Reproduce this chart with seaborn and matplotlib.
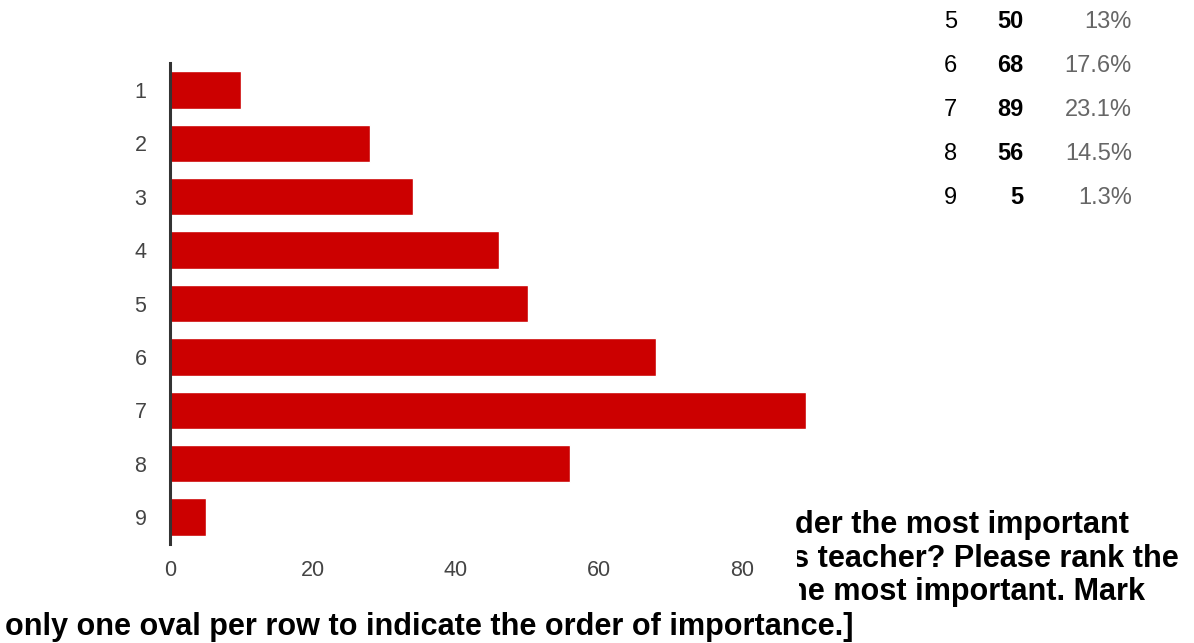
import matplotlib
matplotlib.use("Agg")
import matplotlib.pyplot as plt
import seaborn as sns
import pandas as pd
from matplotlib.transforms import Bbox, TransformedBbox

# Responses per rank
ranks = ["1", "2", "3", "4", "5", "6", "7", "8", "9"]
counts = [10, 28, 34, 46, 50, 68, 89, 56, 5]
x_ticks = [0, 20, 40, 60, 80]

# Summary rows listed beside the chart
table_ranks = ["5", "6", "7", "8", "9"]

question_lines = [
    "der the most important",
    "s teacher? Please rank the",
    "he most important. Mark",
    "only one oval per row to indicate the order of importance.]",
]

W, H = 1194, 643
sns.set_theme(style="white")
plt.rcParams["font.family"] = ["Liberation Sans", "DejaVu Sans"]

fig = plt.figure(figsize=(W / 100, H / 100), dpi=100)
fig.patch.set_facecolor("white")


def fx(px):
    return px / W


def fy(py):
    return 1 - py / H


ax = fig.add_axes([fx(170), fy(543.7), fx(885) - fx(170), fy(63.3) - fy(543.7)])
ax.set_facecolor("none")

df = pd.DataFrame({"rank": ranks, "count": counts})
sns.barplot(data=df, x="count", y="rank", orient="h", color="#cc0000",
            saturation=1, width=0.7, ax=ax)

ax.set_xlim(0, 100)
ax.set_xticks(x_ticks)
ax.set_xlabel("")
ax.set_ylabel("")
for s in ["top", "right", "bottom"]:
    ax.spines[s].set_visible(False)
ax.spines["left"].set_color("#333333")
ax.spines["left"].set_linewidth(2.2)
ax.tick_params(axis="y", length=0, pad=17, labelsize=15.5, labelcolor="#444444")
ax.tick_params(axis="x", length=0, pad=12, labelsize=15.5, labelcolor="#444444")

# Summary table: rank, count, share
total = sum(counts)
row_base = 28
row_step = 44
for i, r in enumerate(table_ranks):
    c = counts[ranks.index(r)]
    pct = f"{round(c / total * 100, 1):g}%"
    y = fy(row_base + i * row_step)
    fig.text(fx(957), y, r, ha="right", va="baseline", fontsize=17, color="black")
    fig.text(fx(1023), y, str(c), ha="right", va="baseline", fontsize=17,
             color="black", fontweight="bold")
    fig.text(fx(1132), y, pct, ha="right", va="baseline", fontsize=17, color="#666666")

# Question text
line_specs = [(795, 533, None), (792, 567, 797), (789, 600, 799), (5, 635, None)]
for text, (x, y, clip_x) in zip(question_lines, line_specs):
    t = fig.text(fx(x), fy(y), text, ha="left", va="baseline", fontsize=22.1,
                 fontweight="bold", color="black")
    if clip_x is not None:
        t.set_clip_box(TransformedBbox(Bbox([[fx(clip_x), 0], [1, 1]]), fig.transFigure))
        t.set_clip_on(True)

fig.savefig("out.png", dpi=100)
